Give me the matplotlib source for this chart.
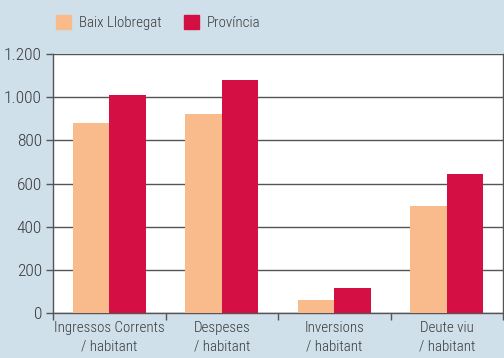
import matplotlib
matplotlib.use("Agg")
import matplotlib.pyplot as plt
import numpy as np
from matplotlib.patches import Rectangle

categories = ["Ingressos Corrents\n/ habitant", "Despeses\n/ habitant", "Inversions\n/ habitant", "Deute viu\n/ habitant"]
baix = [880, 922, 60, 496]
provincia = [1010, 1080, 116, 644]
series_names = ["Baix Llobregat", "Província"]
yticks = [0, 200, 400, 600, 800, 1000, 1200]
ytick_labels = ["0", "200", "400", "600", "800", "1.000", "1.200"]

plt.rcParams['font.family'] = ["Roboto Condensed", "Archivo Narrow", "DejaVu Sans"]
plt.rcParams['font.weight'] = 300

bg = "#cfe0eb"
c1 = "#f9bb8b"
c2 = "#d40f43"
gridc = "#555555"
txtc = "#3a3a3a"

fig = plt.figure(figsize=(5.04, 3.58), dpi=100, facecolor=bg)
ax = fig.add_axes([53/504, 1-313/358, 450/504, 259/358])
ax.set_facecolor("white")

x = np.arange(len(categories))
w = 0.326
ax.bar(x - w/2, baix, w, color=c1, zorder=3)
ax.bar(x + w/2, provincia, w, color=c2, zorder=3)

ax.set_xlim(-0.5, len(categories) - 0.5)
ax.set_ylim(0, 1200)
ax.set_yticks(yticks)
ax.set_yticklabels(ytick_labels, fontsize=12.5, color=txtc)
ax.yaxis.grid(True, color=gridc, linewidth=1.0, zorder=1)
ax.set_xticks(np.arange(len(categories) + 1) - 0.5)
ax.set_xticklabels([])
ax.set_xticks(x, minor=True)
ax.set_xticklabels(categories, minor=True, fontsize=10.8, color=txtc, linespacing=1.4)
ax.tick_params(axis='x', which='minor', length=0, pad=6)
ax.tick_params(axis='x', which='major', length=5, color=gridc, width=1)
ax.tick_params(axis='y', length=5, color=gridc, width=1, pad=3)
for s in ["left", "bottom", "right"]:
    ax.spines[s].set_color(gridc)
    ax.spines[s].set_linewidth(1.0)
ax.spines["top"].set_visible(False)

# legend
for (xs, name, c) in [(56, series_names[0], c1), (184, series_names[1], c2)]:
    fig.patches.append(Rectangle((xs/504, 1-29/358), 15/504, 14/358, transform=fig.transFigure, color=c, figure=fig))
    fig.text((xs + 23)/504, 1-23/358, name, fontsize=10.8, color=txtc, va="center", ha="left")

fig.savefig("out.png", dpi=100, facecolor=bg)
